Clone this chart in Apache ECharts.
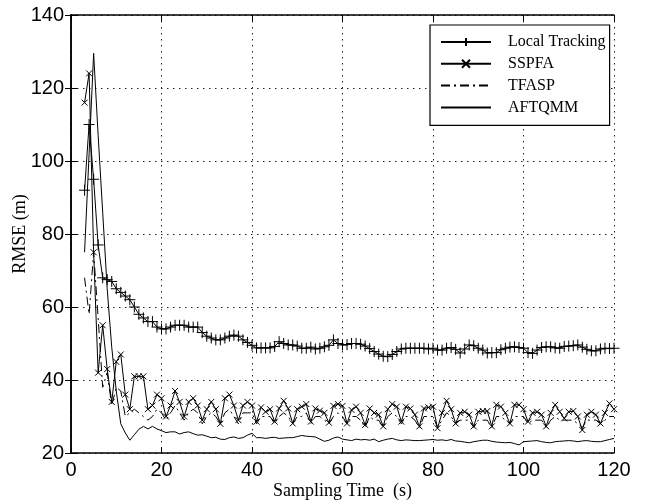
<!DOCTYPE html>
<html>
<head>
<meta charset="utf-8">
<title>RMSE vs Sampling Time</title>
<script src="https://cdn.jsdelivr.net/npm/echarts@6/dist/echarts.min.js"></script>
<style>
html, body { margin: 0; padding: 0; background: #fff; }
#chart { width: 649px; height: 502px; }
</style>
</head>
<body>
<div id="chart"></div>
<script>
// samples start at t = 3 s, one per second up to 120 s
var firstTime = 3;
var legendNames = ['Local Tracking', 'SSPFA', 'TFASP', 'AFTQMM'];

var localTracking = [
  92, 110, 95, 77, 68, 67.5, 67, 65, 64, 63,
  62, 60, 58, 57, 56, 56, 54.5, 54, 54, 54.5,
  55, 55, 55, 54.5, 54.5, 54.5, 53, 52, 51.5, 51,
  51, 51.5, 52, 52.3, 52, 51, 50.3, 49.5, 48.8, 48.8,
  48.8, 48.8, 49.2, 50.5, 50, 49.6, 49.6, 49.3, 48.7, 48.7,
  49, 48.5, 48.7, 49.1, 49.5, 51, 50, 49.6, 49.7, 50,
  50, 49.8, 49.3, 48.6, 47.8, 47.1, 46.5, 46.4, 47, 47.8,
  48.5, 48.7, 48.7, 48.7, 48.7, 48.7, 48.5, 48.7, 48.2, 48.2,
  48.7, 48.9, 48.4, 47.4, 48.5, 49.6, 49.4, 48.7, 48.2, 47.4,
  47.5, 47.5, 48.3, 48.7, 49, 49.1, 48.9, 48.7, 47.5, 47.3,
  48.2, 48.9, 49.1, 49.1, 48.8, 48.7, 49.2, 49.3, 49.4, 49.6,
  49, 48.4, 48, 48, 48.5, 48.7, 48.6, 48.7
];

var sspfa = [
  116, 124, 75, 42, 55, 43, 34, 45, 47, 36,
  32, 41, 41, 41, 32, 33, 36, 35, 30, 33,
  37, 34, 30, 34, 35, 33, 29, 32, 34, 32,
  28, 35, 36, 33, 29, 33, 34, 33, 28.6, 32.5,
  31.3, 32, 28.6, 32.2, 34.3, 32.2, 28.1, 32, 32.7, 33.4,
  28.6, 32.2, 31.6, 31, 28.3, 32.9, 33.4, 32.9, 28.1, 31.8,
  32.7, 31, 27.7, 32.2, 31, 30.5, 27.3, 32, 33.4, 32.7,
  28.6, 32.7, 32.2, 30.5, 27.3, 32.2, 32.5, 32.7, 26.8, 31,
  34.3, 32, 28.1, 31, 31.3, 30.5, 27.3, 31.3, 31.5, 31.5,
  27.3, 33.2, 32.7, 31, 28.1, 33.2, 33.2, 32, 28.6, 31,
  31.3, 30.5, 27.3, 31, 33.2, 31.3, 29.5, 31.3, 31.5, 30,
  26.3, 30.5, 31.3, 30.5, 28.1, 31, 33.6, 32
];

var tfasp = [
  68, 58, 75, 57, 38, 42, 33, 38, 37, 30,
  31, 32, 31, 30, 29, 30, 32, 31, 29, 31,
  33, 31, 29, 31, 32, 31, 28, 30, 31, 30,
  28, 31, 32, 30, 28, 31, 31, 31, 28, 30,
  30, 30, 28, 30, 31, 30, 28, 30, 30, 31,
  28, 30, 30, 29, 28, 30, 31, 30, 28, 30,
  30, 29, 27, 30, 29, 29, 27, 30, 31, 30,
  28, 30, 30, 29, 27, 30, 30, 30, 27, 29,
  31, 30, 28, 29, 29, 29, 27, 29, 29, 29,
  27, 30, 30, 29, 28, 30, 30, 30, 28, 29,
  29, 29, 27, 29, 30, 29, 29, 29, 29, 28,
  27, 29, 29, 29, 28, 29, 30, 30
];

var aftqmm = [
  75, 102, 129.5, 107, 86, 65, 49, 37, 28, 25.5,
  23.5, 25, 26.5, 27.3, 26.6, 27.3, 26.6, 26.1, 25.6, 25.8,
  25.8, 25.2, 25.6, 25.8, 25.3, 24.9, 25, 24.6, 24.2, 24.3,
  23.8, 23.7, 24.2, 24.4, 24, 24.2, 24.9, 25.4, 24.2, 24.2,
  24, 24.2, 24.3, 24, 24.1, 24.2, 24.2, 24.5, 24.8, 24.6,
  24.5, 24.4, 23.8, 23.2, 23.5, 24.1, 24.4, 23.8, 23.6, 23.4,
  23.8, 23.6, 23.7, 23.5, 23.8, 23.1, 23.5, 23.8, 24, 23.6,
  23.4, 23.6, 23.5, 23.4, 23.4, 23.5, 23.6, 23.7, 23.5, 23.6,
  23.4, 23.7, 23.3, 23.2, 23, 22.8, 23.1, 23.3, 23.5, 23.5,
  23.2, 23, 22.9, 22.8, 22.9, 22.6, 22.2, 23.1, 23.2, 23.3,
  23.4, 23.1, 22.9, 22.8, 23.1, 23.2, 23.3, 23.4, 23.3, 23.1,
  23.3, 23.4, 23.2, 23.1, 23.1, 23.4, 23.7, 24
];

function toPoints(values) {
  return values.map(function (v, i) { return [firstTime + i, v]; });
}

var plusMark = 'path://M0,-1L0,1M-1,0L1,0';
var crossMark = 'path://M-1,-1L1,1M-1,1L1,-1';

var axisFont = { fontFamily: 'Liberation Sans', fontSize: 20, color: '#000' };
var nameFont = { fontFamily: 'Liberation Serif', fontSize: 18, color: '#000' };
var boxLine = { lineStyle: { color: '#000', width: 1.5 } };
var gridDots = { show: true, lineStyle: { color: '#222', width: 1, type: [1.5, 4.5] } };
var hiddenMark = { opacity: 0 };

function lineSeries(name, values, symbol, size, dash) {
  return {
    name: name,
    type: 'line',
    data: toPoints(values),
    symbol: symbol,
    symbolSize: size,
    showAllSymbol: true,
    silent: true,
    animation: false,
    emphasis: { disabled: true },
    lineStyle: { color: '#000', width: 1, type: dash || 'solid' },
    itemStyle: { color: '#000', borderColor: '#000', borderWidth: 1 }
  };
}

var chart = echarts.init(document.getElementById('chart'));
chart.setOption({
  animation: false,
  backgroundColor: '#fff',
  grid: { left: 71, right: 35, top: 15, bottom: 49, containLabel: false, outerBoundsMode: 'none' },
  legend: {
    data: [
      { name: legendNames[0] },
      { name: legendNames[1] },
      { name: legendNames[2], itemStyle: hiddenMark },
      { name: legendNames[3], itemStyle: hiddenMark }
    ],
    orient: 'vertical',
    left: 430,
    top: 25,
    backgroundColor: '#fff',
    borderColor: '#000',
    borderWidth: 1.2,
    borderRadius: 0,
    padding: [9, 4, 10, 10],
    itemWidth: 50,
    itemHeight: 10,
    itemGap: 5.8,
    selectedMode: false,
    textStyle: { fontFamily: 'Liberation Serif', fontSize: 16, color: '#000', padding: [0, 0, 0, 12] }
  },
  xAxis: [
    {
      type: 'value', min: 0, max: 120, interval: 20, position: 'bottom',
      name: 'Sampling Time  (s)', nameLocation: 'middle', nameGap: 29, nameMoveOverlap: false,
      nameTextStyle: nameFont,
      axisLine: boxLine,
      axisTick: { inside: true, length: 6, lineStyle: { color: '#000' } },
      axisLabel: Object.assign({ margin: 7 }, axisFont),
      splitLine: gridDots
    },
    {
      type: 'value', min: 0, max: 120, interval: 20, position: 'top',
      axisLine: boxLine,
      axisTick: { inside: true, length: 6, lineStyle: { color: '#000' } },
      axisLabel: { show: false },
      splitLine: { show: false }
    }
  ],
  yAxis: [
    {
      type: 'value', min: 20, max: 140, interval: 20, position: 'left',
      name: 'RMSE (m)', nameLocation: 'middle', nameGap: 42, nameRotate: 90, nameMoveOverlap: false,
      nameTextStyle: nameFont,
      axisLine: boxLine,
      axisTick: { inside: true, length: 6, lineStyle: { color: '#000' } },
      axisLabel: Object.assign({ margin: 7 }, axisFont),
      splitLine: gridDots
    },
    {
      type: 'value', min: 20, max: 140, interval: 20, position: 'right',
      axisLine: boxLine,
      axisTick: { inside: true, length: 6, lineStyle: { color: '#000' } },
      axisLabel: { show: false },
      splitLine: { show: false }
    }
  ],
  series: [
    lineSeries(legendNames[0], localTracking, plusMark, 11),
    lineSeries(legendNames[1], sspfa, crossMark, 6),
    lineSeries(legendNames[2], tfasp, 'none', 1, [9, 4, 2, 4]),
    lineSeries(legendNames[3], aftqmm, 'none', 1)
  ]
});
</script>
</body>
</html>
